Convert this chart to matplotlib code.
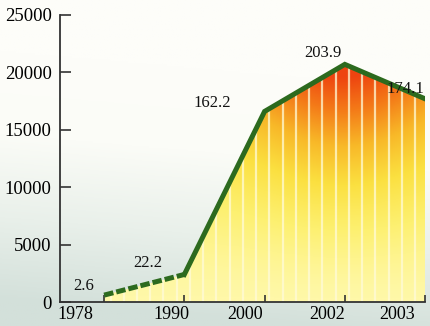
import numpy as np
import matplotlib.pyplot as plt
from matplotlib.colors import LinearSegmentedColormap
from matplotlib.patches import Polygon

years = ["1978", "1990", "2000", "2002", "2003"]
values = [600, 2400, 16600, 20700, 17700]
notes = ["2.6", "22.2", "162.2", "203.9", "174.1"]
yticks = [0, 5000, 10000, 15000, 20000, 25000]

x = np.arange(len(years))

plt.rcParams['font.family'] = ['Liberation Serif', 'DejaVu Serif']
fig = plt.figure(figsize=(4.3, 3.26), dpi=100)

# background
bg = fig.add_axes([0, 0, 1, 1], zorder=-5)
bg.axis("off")
gy = np.linspace(0, 1, 200)[:, None]
gx = np.linspace(0, 1, 200)[None, :]
g = np.clip(gy * 1.3 - 0.1 + gx * 0.15, 0, 1)
bg_cmap = LinearSegmentedColormap.from_list("bg", ["#d3e0da", "#e9f0ea", "#fbfcf7", "#fdfdf9"])
bg.imshow(g, cmap=bg_cmap, aspect="auto", extent=[0, 1, 0, 1], origin="lower")
bg.set_xlim(0, 1); bg.set_ylim(0, 1)

ax = fig.add_axes([0.1395, 0.0736, 0.849, 0.8804])
ax.patch.set_alpha(0)

# gradient fill under the line
verts = [(x[0], 0)] + list(zip(x, values)) + [(x[-1], 0)]
poly = Polygon(verts, closed=True, facecolor="none", edgecolor="none")
ax.add_patch(poly)
fill_cmap = LinearSegmentedColormap.from_list(
    "fill", ["#fff8a8", "#fdf070", "#fbe040", "#f8b828", "#f47a18", "#ee4410"])
yy = np.linspace(0, 21000, 300)[:, None]
xx = np.linspace(0, 4, 300)[None, :]
t = (yy / 21000) ** 1.4 * (0.65 + 0.4 * np.exp(-((xx - 3.0) / 1.2) ** 2))
t = np.clip(t * 1.05, 0, 1)
im = ax.imshow(t, cmap=fill_cmap, aspect="auto", extent=[0, 4, 0, 21000],
               origin="lower", vmin=0, vmax=1, zorder=1)
im.set_clip_path(poly)
for sx in np.arange(0.08, 4, 0.165):
    ln = ax.axvline(sx, color="#fffbd8", lw=1.6, alpha=0.75, zorder=2)
    ln.set_clip_path(poly)

# line
ax.plot(x[:2], values[:2], color="#2c6a1e", lw=3.6, dashes=(1.9, 0.6), zorder=4,
        solid_capstyle="butt", dash_capstyle="butt")
ax.plot(x[1:], values[1:], color="#2c6a1e", lw=3.6, zorder=4, solid_joinstyle="miter")

note_pos = [(-0.26, 1390), (0.55, 3400), (1.35, 17330), (2.73, 21690), (3.75, 18550)]
for (px, py), s in zip(note_pos, notes):
    ax.text(px, py, s, ha="center", va="center", fontsize=12, color="#111111", zorder=5)

ax.set_xlim(-0.55, 4.0)
ax.set_ylim(0, 25000)
ax.set_yticks(yticks)
ax.set_yticklabels([str(v) for v in yticks])
ax.set_xticks(x)
ax.set_xticklabels([])
ax.set_xticks(x - np.array([0.36, 0.16, 0.24, 0.22, 0.35]), minor=True)
ax.set_xticklabels(years, minor=True)
ax.tick_params(axis="x", which="major", direction="in", length=5, width=1.2, color="#333333")
ax.tick_params(axis="x", which="minor", length=0, pad=3, labelsize=13)
ax.tick_params(axis="y", direction="in", length=8, width=1.2, color="#333333",
               pad=6, labelsize=13.5)
for sp in ["top", "right"]:
    ax.spines[sp].set_visible(False)
for sp in ["left", "bottom"]:
    ax.spines[sp].set_color("#333333")
    ax.spines[sp].set_linewidth(1.3)

fig.savefig("out.png", dpi=100)
